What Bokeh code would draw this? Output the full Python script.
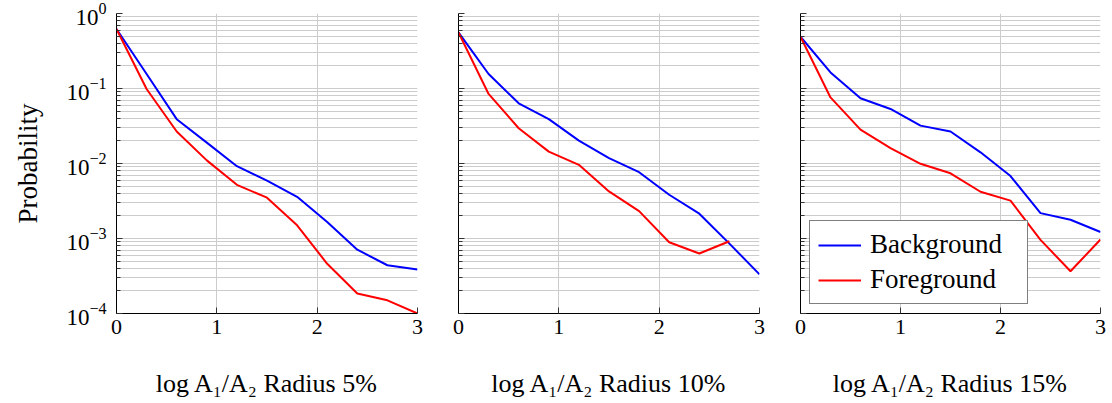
from bokeh.plotting import figure
from bokeh.layouts import row
from bokeh.models import (FixedTicker, LogTickFormatter, CustomJSTickFormatter,
                          Legend, LegendItem, Range1d)
from bokeh.embed import file_html
from bokeh.resources import INLINE

# ---- data ----
X = [0.0, 0.3, 0.6, 0.9, 1.2, 1.5, 1.8, 2.1, 2.4, 2.7, 3.0]
bg5 = [0.62, 0.156, 0.039, 0.019, 0.0092, 0.0059, 0.0036, 0.00166, 0.00071, 0.00044, 0.000385]
fg5 = [0.62, 0.0986, 0.0267, 0.011, 0.0052, 0.0035, 0.0015, 0.00046, 0.000185, 0.00015, 0.0001]
bg10 = [0.56, 0.156, 0.0635, 0.039, 0.0202, 0.0118, 0.00766, 0.00383, 0.00214, 0.000855, 0.000333]
fg10 = [0.56, 0.0846, 0.0295, 0.0144, 0.0096, 0.00424, 0.00232, 0.00089, 0.00063, 0.00092]
bg15 = [0.49, 0.164, 0.074, 0.0533, 0.032, 0.0267, 0.0141, 0.0068, 0.00218, 0.00178, 0.00122]
fg15 = [0.49, 0.076, 0.0283, 0.016, 0.0099, 0.0074, 0.0042, 0.0032, 0.00096, 0.000366, 0.00097]

x_ticks = [0, 1, 2, 3]
y_ticks = [1e-4, 1e-3, 1e-2, 1e-1, 1.0]
y_minor = [m * 10.0 ** k for k in range(-4, 0) for m in range(2, 10)]
titles = ["log A\u2081/A\u2082 Radius 5%", "log A\u2081/A\u2082 Radius 10%", "log A\u2081/A\u2082 Radius 15%"]
series_names = ["Background", "Foreground"]

FONT = "Liberation Serif"
BLUE = "#0000ff"
RED = "#ff0000"
GRID = "#cccccc"
H = 400


def make_fig(width, left, right, show_ylabels, xlabel):
    p = figure(width=width, height=H, y_axis_type="log",
               x_range=Range1d(0, 3), y_range=Range1d(1e-4, 1),
               output_backend="svg", toolbar_location=None,
               min_border_left=left, min_border_right=right,
               min_border_top=13, min_border_bottom=H - 313)
    p.outline_line_color = None
    p.background_fill_color = "white"
    p.border_fill_color = "white"

    xt = FixedTicker(ticks=x_ticks, minor_ticks=[])
    yt = FixedTicker(ticks=y_ticks, minor_ticks=y_minor)
    p.xaxis.ticker = xt
    p.yaxis.ticker = yt
    p.xgrid.ticker = xt
    p.ygrid.ticker = yt

    for ax in (p.xaxis[0], p.yaxis[0]):
        ax.axis_line_color = "black"
        ax.axis_line_width = 1
        ax.major_tick_line_color = "#333333"
        ax.minor_tick_line_color = "#333333"
        ax.major_tick_in = 6
        ax.major_tick_out = 0
        ax.minor_tick_in = 4
        ax.minor_tick_out = 0
        ax.major_label_text_font = FONT
        ax.major_label_text_font_size = "22px"
        ax.major_label_text_color = "black"
        ax.axis_label_text_font = FONT
        ax.axis_label_text_font_size = "26px"
        ax.axis_label_text_font_style = "normal"
        ax.axis_label_text_color = "black"

    p.xaxis.major_label_standoff = 6
    p.xaxis.axis_label = xlabel
    p.xaxis.axis_label_standoff = 32

    if show_ylabels:
        p.yaxis.formatter = LogTickFormatter()
        p.yaxis.major_label_text_font_size = "23px"
        p.yaxis.axis_label = "Probability"
        p.yaxis.axis_label_text_font_size = "27px"
        p.yaxis.major_label_standoff = 10
        p.yaxis.axis_label_standoff = 20
    else:
        p.yaxis.formatter = CustomJSTickFormatter(code="return '';")
        p.yaxis.major_label_standoff = 0

    p.xgrid.grid_line_color = GRID
    p.ygrid.grid_line_color = GRID
    p.ygrid.minor_grid_line_color = GRID
    p.xgrid.grid_line_width = 1
    p.ygrid.grid_line_width = 1
    return p


p1 = make_fig(437, 116, 20, True, titles[0])
p2 = make_fig(342, 21, 20, False, titles[1])
p3 = make_fig(329, 21, 8, False, titles[2])

r = []
for p, bg, fg in ((p1, bg5, fg5), (p2, bg10, fg10), (p3, bg15, fg15)):
    rb = p.line(X, bg, line_color=BLUE, line_width=2)
    rf = p.line(X[:len(fg)], fg, line_color=RED, line_width=2)
    r.append((rb, rf))

legend = Legend(items=[LegendItem(label=series_names[0], renderers=[r[2][0]]),
                       LegendItem(label=series_names[1], renderers=[r[2][1]])],
                location="bottom_left")
legend.margin = 9
legend.padding = 8
legend.spacing = 4
legend.glyph_width = 43
legend.glyph_height = 30
legend.label_height = 30
legend.label_width = 149
legend.label_standoff = 9
legend.label_text_font = FONT
legend.label_text_font_size = "27px"
legend.label_text_color = "black"
legend.border_line_color = "black"
legend.border_line_width = 1
legend.background_fill_alpha = 1.0
p3.add_layout(legend)

layout = row(p1, p2, p3)

open("out.html", "w").write(file_html(layout, INLINE))
